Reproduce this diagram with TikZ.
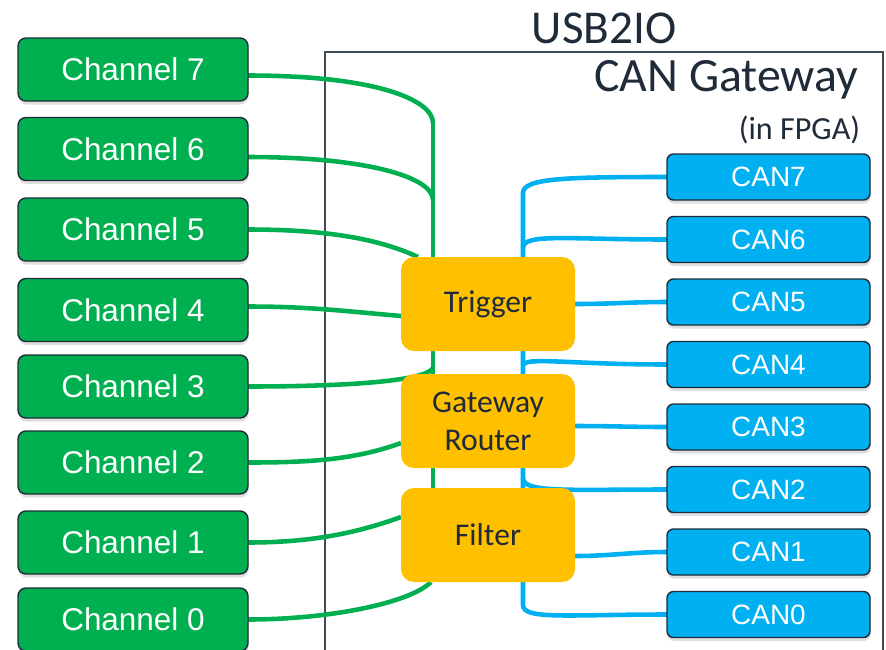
\documentclass[tikz,border=0pt]{standalone}
\usepackage{fontspec}
\setmainfont{Carlito}
\newfontfamily\arialfont{Liberation Sans}
\usetikzlibrary{positioning}
\usetikzlibrary{shadows}
\usetikzlibrary{backgrounds}
\definecolor{chgreen}{HTML}{00B050}
\definecolor{canblue}{HTML}{00B0F0}
\definecolor{blockorange}{HTML}{FFC000}
\definecolor{darktext}{HTML}{1F2B38}
\tikzset{chan node/.style={rectangle,rounded corners=0.16cm,fill=chgreen,draw=darktext,line width=0.8pt,outer sep=0pt,minimum width=4.6cm,minimum height=1.26cm,inner sep=0pt,text=white,font=\arialfont\fontsize{17.9}{20}\selectfont,drop shadow={shadow xshift=0.3pt,shadow yshift=-2pt,opacity=0.25}}}
\tikzset{can node/.style={rectangle,rounded corners=0.13cm,fill=canblue,draw=darktext,line width=0.8pt,outer sep=0pt,minimum width=4.06cm,minimum height=0.92cm,inner sep=0pt,text=white,font=\arialfont\fontsize{15.9}{18}\selectfont,drop shadow={shadow xshift=0.3pt,shadow yshift=-2pt,opacity=0.25}}}
\tikzset{block node/.style={rectangle,rounded corners=0.26cm,fill=blockorange,outer sep=0pt,minimum width=3.48cm,minimum height=1.88cm,inner sep=0pt,text=darktext,align=center,font=\fontsize{18}{21.5}\selectfont}}
\tikzset{green link/.style={draw=chgreen,line width=2.6pt}}
\tikzset{blue link/.style={draw=canblue,line width=2.6pt}}

\begin{document}
\begin{tikzpicture}
    \useasboundingbox (0,0) rectangle (17.72,-12.98);

    \node[text=darktext,inner sep=0pt,font=\fontsize{26.8}{30}\selectfont] (usb) at (12.08,-0.56) {USB2IO};
    \node[text=darktext,inner sep=0pt,anchor=east,font=\fontsize{27.2}{30}\selectfont] (gwtitle) at (17.17,-1.6) {CAN Gateway};
    \node[text=darktext,inner sep=0pt,anchor=east,font=\fontsize{18.3}{20}\selectfont] (fpga) at (17.21,-2.6) {(in FPGA)};

    \node[chan node] (c_{7}) at (2.66,-1.39) {Channel 7};
    \node[chan node] (c_{6}) [below = 0.33cm of c_{7}] {Channel 6};
    \node[chan node] (c_{5}) [below = 0.35cm of c_{6}] {Channel 5};
    \node[chan node] (c_{4}) [below = 0.35cm of c_{5}] {Channel 4};
    \node[chan node] (c_{3}) [below = 0.27cm of c_{4}] {Channel 3};
    \node[chan node] (c_{2}) [below = 0.26cm of c_{3}] {Channel 2};
    \node[chan node] (c_{1}) [below = 0.34cm of c_{2}] {Channel 1};
    \node[chan node] (c_{0}) [below = 0.28cm of c_{1}] {Channel 0};

    \node[can node] (can_{7}) at (15.37,-3.54) {CAN7};
    \node[can node] (can_{6}) [below = 0.33cm of can_{7}] {CAN6};
    \node[can node] (can_{5}) [below = 0.33cm of can_{6}] {CAN5};
    \node[can node] (can_{4}) [below = 0.33cm of can_{5}] {CAN4};
    \node[can node] (can_{3}) [below = 0.33cm of can_{4}] {CAN3};
    \node[can node] (can_{2}) [below = 0.33cm of can_{3}] {CAN2};
    \node[can node] (can_{1}) [below = 0.33cm of can_{2}] {CAN1};
    \node[can node] (can_{0}) [below = 0.33cm of can_{1}] {CAN0};

    \node[block node] (trig) at (9.76,-6.08) {Trigger};
    \node[block node] (gw) [below = 0.46cm of trig] {Gateway\\Router};
    \node[block node] (filt) [below = 0.4cm of gw] {Filter};

    \coordinate (g_{7}) at (8.66,-2.46);
    \coordinate (g_{6}) at (8.66,-4.0);
    \coordinate (g_{3}) at (8.66,-7.36);
    \coordinate (b_{7}) at (10.46,-3.86);
    \coordinate (b_{6}) at (10.46,-4.96);
    \coordinate (b_{4}) at (10.46,-7.32);
    \coordinate (b_{2}) at (10.46,-9.56);
    \coordinate (b_{0}) at (10.46,-12.1);

    \begin{scope}[on background layer]
    \draw[line width=0.6pt,draw=darktext!85] (6.5,-1.04) rectangle (17.66,-14);

    % green side
    \draw[green link] (g_{7}) -- (g_{7} |- filt.north);
    \path[green link]
    	([yshift=-0.12cm]c_{7}.east) edge[out=0,in=90,out distance=2.6cm,in distance=0.45cm] (g_{7})
    	([yshift=-0.16cm]c_{6}.east) edge[out=0,in=90,out distance=2.4cm,in distance=0.45cm] (g_{6})
    	(c_{5}.east) edge[out=0,in=155,out distance=1.5cm,in distance=0.9cm] ([xshift=0.34cm]trig.north west)
    	([yshift=0.07cm]c_{4}.east) edge[out=0,in=175] ([yshift=-0.24cm]trig.west)
    	(c_{3}.east) edge[out=0,in=-120,out distance=2cm,in distance=0.3cm] (g_{3})
    	(c_{2}.east) edge[out=0,in=200,out distance=1.2cm,in distance=1cm] ([yshift=-0.44cm]gw.west)
    	(c_{1}.east) edge[out=0,in=200,out distance=1.2cm,in distance=1cm] ([yshift=0.36cm]filt.west)
    	(c_{0}.east) edge[out=0,in=-135,out distance=1.6cm,in distance=0.6cm] ([xshift=0.6cm]filt.south west);

    % blue side
    \draw[blue link] (can_{7}.west) to[out=180,in=90,out distance=2cm,in distance=0.3cm] (b_{7})
    	-- (b_{0}) to[out=-90,in=180,out distance=0.3cm,in distance=2cm] (can_{0}.west);
    \path[blue link]
    	(can_{6}.west) edge[out=180,in=90,out distance=2cm,in distance=0.3cm] (b_{6})
    	(can_{5}.west) edge[out=180,in=0] (trig.east)
    	(can_{4}.west) edge[out=180,in=90,out distance=2cm,in distance=0.2cm] (b_{4})
    	(can_{3}.west) edge[out=180,in=0] ([yshift=-0.1cm]gw.east)
    	(can_{2}.west) edge[out=180,in=-90,out distance=2cm,in distance=0.3cm] (b_{2})
    	(can_{1}.west) edge[out=180,in=0] ([yshift=-0.42cm]filt.east);
    \end{scope}
\end{tikzpicture}
\end{document}
